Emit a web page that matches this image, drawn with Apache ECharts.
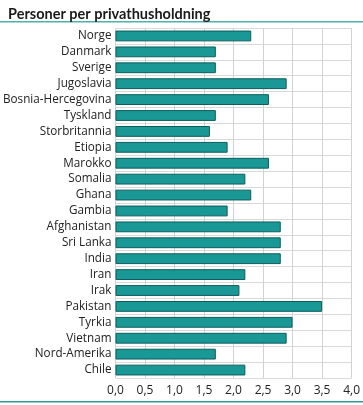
<!DOCTYPE html>
<html>
<head>
<meta charset="utf-8">
<script src="https://cdn.jsdelivr.net/npm/echarts@6/dist/echarts.min.js"></script>
<style>html,body{margin:0;padding:0;background:#fff;}#c{width:363px;height:405px;}</style>
</head>
<body>
<div id="c"></div>
<script>
var categories = ["Norge","Danmark","Sverige","Jugoslavia","Bosnia-Hercegovina","Tyskland","Storbritannia","Etiopia","Marokko","Somalia","Ghana","Gambia","Afghanistan","Sri Lanka","India","Iran","Irak","Pakistan","Tyrkia","Vietnam","Nord-Amerika","Chile"];
var values = [2.3,1.7,1.7,2.9,2.6,1.7,1.6,1.9,2.6,2.2,2.3,1.9,2.8,2.8,2.8,2.2,2.1,3.5,3.0,2.9,1.7,2.2];
var titleText = "Personer per privathusholdning";

var chart = echarts.init(document.getElementById('c'), null, {renderer:'canvas'});
var font = "'Open Sans', 'Noto Sans', sans-serif";
chart.setOption({
  animation:false,
  textStyle:{fontFamily:font},
  title:{text:titleText,left:3,top:2,textStyle:{fontFamily:"Lato, 'Open Sans', sans-serif",fontSize:14.5,fontWeight:'bold',color:'#1a1a1a'}},
  graphic:[
    {type:'rect',shape:{x:0,y:21,width:363,height:1.5},style:{fill:'#4fb0b0'}},
    {type:'rect',shape:{x:0,y:401,width:363,height:1.5},style:{fill:'#2a9a98'}}
  ],
  grid:{left:110,right:11,top:28,bottom:27,containLabel:false},
  xAxis:{type:'value',min:0,max:4,interval:0.5,
    axisLine:{show:false},axisTick:{show:false},
    splitLine:{show:true,lineStyle:{color:'#d2d2d2',width:1}},
    axisLabel:{fontSize:12,color:'#222',margin:7,formatter:function(v){return v.toFixed(1).replace('.',',');}}},
  yAxis:{type:'category',data:categories,inverse:true,
    axisLine:{show:false},axisTick:{show:false},
    splitLine:{show:true,lineStyle:{color:'#d9d9d9',width:1}},
    axisLabel:{fontSize:11.7,color:'#222',margin:4}},
  series:[{type:'bar',data:values,barCategoryGap:'32%',
    itemStyle:{color:'#1a9896',borderColor:'#0d5d5c',borderWidth:1}}]
});
</script>
</body>
</html>
